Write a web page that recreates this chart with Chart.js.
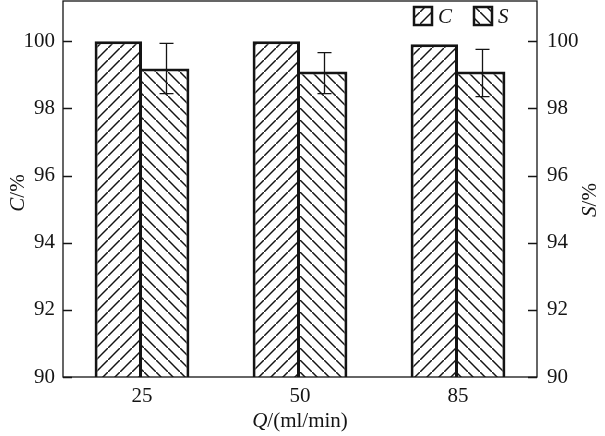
<!DOCTYPE html>
<html>
<head>
<meta charset="utf-8">
<script src="https://cdn.jsdelivr.net/npm/chart.js@4/dist/chart.umd.min.js"></script>
<style>
  body { margin: 0; background: #fff; }
  #wrap { width: 605px; height: 436px; position: relative; }
</style>
</head>
<body>
<div id="wrap"><canvas id="chart"></canvas></div>
<script>
// data
const flows = ['25', '50', '85'];
const convC = [100.0, 100.0, 99.91];
const selS = [99.19, 99.10, 99.10];
const selErrHigh = [99.94, 99.66, 99.76];
const selErrLow = [98.44, 98.44, 98.35];
const yTicks = [90, 92, 94, 96, 98, 100];

const serif = "'Liberation Serif', 'DejaVu Serif', serif";
const ink = '#141414';

function hatch(dir) {
    const c = document.createElement('canvas');
    c.width = 12; c.height = 12;
    const g = c.getContext('2d');
    g.fillStyle = '#fff';
    g.fillRect(0, 0, 12, 12);
    g.strokeStyle = ink;
    g.lineWidth = 1.5;
    g.beginPath();
    if (dir === '/') {
        g.moveTo(-2, 14); g.lineTo(14, -2);
    } else {
        g.moveTo(-2, -2); g.lineTo(14, 14);
    }
    g.stroke();
    return g.createPattern(c, 'repeat');
}
const patC = hatch('/');
const patS = hatch('\\');

// text with italic first part
function mixedText(ctx, parts, x, y, rot) {
    ctx.save();
    ctx.translate(x, y);
    ctx.rotate(rot);
    let total = 0;
    parts.forEach(p => { ctx.font = (p.it ? 'italic ' : '') + '21px ' + serif; total += ctx.measureText(p.t).width; });
    let cx = -total / 2;
    ctx.textBaseline = 'middle';
    ctx.textAlign = 'left';
    ctx.fillStyle = ink;
    parts.forEach(p => {
        ctx.font = (p.it ? 'italic ' : '') + '21px ' + serif;
        ctx.fillText(p.t, cx, 0);
        cx += ctx.measureText(p.t).width;
    });
    ctx.restore();
}

const decor = {
    id: 'decor',
    afterDatasetsDraw(chart) {
        const ctx = chart.ctx;
        const a = chart.chartArea;
        const y = chart.scales.y;
        ctx.save();
        ctx.strokeStyle = ink;
        ctx.lineWidth = 1.3;
        ctx.strokeRect(a.left, a.top, a.right - a.left, a.bottom - a.top);

        // inward ticks on both sides
        ctx.beginPath();
        yTicks.forEach(v => {
            const py = Math.round(y.getPixelForValue(v)) + 0.5;
            ctx.moveTo(a.left, py); ctx.lineTo(a.left + 9, py);
            ctx.moveTo(a.right, py); ctx.lineTo(a.right - 9, py);
        });
        ctx.stroke();

        // error bars on S
        const meta = chart.getDatasetMeta(1);
        ctx.lineWidth = 1.3;
        ctx.beginPath();
        meta.data.forEach((bar, i) => {
            const x = Math.round(bar.x) + 0.5;
            const hi = y.getPixelForValue(selErrHigh[i]);
            const lo = y.getPixelForValue(selErrLow[i]);
            ctx.moveTo(x, hi); ctx.lineTo(x, lo);
            ctx.moveTo(x - 7, hi); ctx.lineTo(x + 7, hi);
            ctx.moveTo(x - 7, lo); ctx.lineTo(x + 7, lo);
        });
        ctx.stroke();

        // legend
        const items = [
            { pat: patC, label: chart.data.datasets[0].label, x: 414 },
            { pat: patS, label: chart.data.datasets[1].label, x: 474 }
        ];
        items.forEach(it => {
            ctx.fillStyle = it.pat;
            ctx.fillRect(it.x, 7, 18, 18);
            ctx.lineWidth = 2.5;
            ctx.strokeRect(it.x, 7, 18, 18);
            ctx.fillStyle = ink;
            ctx.font = 'italic 21px ' + serif;
            ctx.textBaseline = 'middle';
            ctx.textAlign = 'left';
            ctx.fillText(it.label, it.x + 24, 17);
        });
        ctx.restore();

        // axis titles
        mixedText(ctx, [{ t: 'C', it: true }, { t: '/%', it: false }], 18, 193, -Math.PI / 2);
        mixedText(ctx, [{ t: 'S', it: true }, { t: '/%', it: false }], 590, 200, -Math.PI / 2);
        mixedText(ctx, [{ t: 'Q', it: true }, { t: '/(ml/min)', it: false }], 300, 421, 0);
    }
};

const tickFont = { family: serif, size: 21 };
const noPad = s => { s.paddingTop = 0; s.paddingBottom = 0; s.paddingLeft = 0; s.paddingRight = 0; };

new Chart(document.getElementById('chart'), {
    type: 'bar',
    data: {
        labels: flows,
        datasets: [{
            label: 'C',
            data: convC,
            backgroundColor: patC,
            borderColor: ink,
            borderWidth: 3,
            borderSkipped: false,
            yAxisID: 'y'
        }, {
            label: 'S',
            data: selS,
            backgroundColor: patS,
            borderColor: ink,
            borderWidth: 3,
            borderSkipped: 'left',
            yAxisID: 'y'
        }]
    },
    options: {
        responsive: true,
        maintainAspectRatio: false,
        animation: false,
        layout: { padding: { top: 1, left: 0, right: 0, bottom: 0 } },
        datasets: { bar: { categoryPercentage: 0.6, barPercentage: 1.0 } },
        scales: {
            x: {
                grid: { display: false, drawTicks: false },
                border: { display: false },
                ticks: { font: tickFont, color: ink, padding: 7 },
                afterFit: s => { s.height = 59; noPad(s); }
            },
            y: {
                position: 'left',
                min: 90,
                max: 101.2,
                grid: { display: false, drawTicks: false },
                border: { display: false },
                afterBuildTicks: s => { s.ticks = yTicks.map(v => ({ value: v })); },
                ticks: { font: tickFont, color: ink, padding: 8 },
                afterFit: s => { s.width = 63; noPad(s); }
            },
            y1: {
                position: 'right',
                min: 90,
                max: 101.2,
                grid: { display: false, drawTicks: false },
                border: { display: false },
                afterBuildTicks: s => { s.ticks = yTicks.map(v => ({ value: v })); },
                ticks: { font: tickFont, color: ink, padding: 10 },
                afterFit: s => { s.width = 68; noPad(s); }
            }
        },
        plugins: {
            legend: { display: false },
            tooltip: { enabled: false }
        }
    },
    plugins: [decor]
});
</script>
</body>
</html>
